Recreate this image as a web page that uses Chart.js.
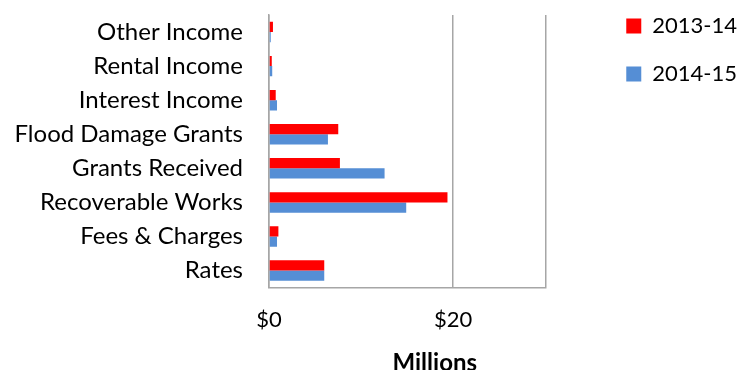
<!DOCTYPE html>
<html>
<head>
<meta charset="utf-8">
<script src="https://cdn.jsdelivr.net/npm/chart.js@4"></script>
<style>
  html, body { margin: 0; padding: 0; background: #fff; }
  #wrap { width: 742px; height: 370px; }
</style>
</head>
<body>
<div id="wrap"><canvas id="incomeChart" width="742" height="370"></canvas></div>
<script>
const categories = ["Other Income", "Rental Income", "Interest Income", "Flood Damage Grants",
    "Grants Received", "Recoverable Works", "Fees & Charges", "Rates"];
const income1314 = [0.43, 0.30, 0.73, 7.52, 7.70, 19.38, 1.02, 6.00];
const income1415 = [0.19, 0.35, 0.87, 6.40, 12.55, 14.90, 0.87, 6.00];
const seriesNames = ["2013-14", "2014-15"];
const xTicks = [0, 20, 30];

const FONT = "Lato, 'Open Sans', sans-serif";

// move the legend up and away from the plot
const legendPlace = {
    id: "legendPlace",
    afterLayout(chart) {
        const lg = chart.legend;
        const w = lg.width, h = lg.height;
        lg.left = chart.chartArea.right + 55;
        lg.right = lg.left + w;
        lg.top = -11;
        lg.bottom = lg.top + h;
    }
};

// axis title sits a little right of centre
const axisTitle = {
    id: "axisTitle",
    afterDraw(chart) {
        const ctx = chart.ctx;
        const area = chart.chartArea;
        ctx.save();
        ctx.font = "bold 24px " + FONT;
        ctx.fillStyle = "#000";
        ctx.textAlign = "center";
        ctx.textBaseline = "middle";
        ctx.fillText("Millions", area.left + (area.right - area.left) * 0.6, 363);
        ctx.restore();
    }
};

new Chart(document.getElementById("incomeChart"), {
    type: "bar",
    data: {
        labels: categories,
        datasets: [{
            label: seriesNames[0],
            data: income1314,
            backgroundColor: "#ff0000"
        }, {
            label: seriesNames[1],
            data: income1415,
            backgroundColor: "#558ed5"
        }]
    },
    options: {
        indexAxis: "y",
        responsive: false,
        animation: false,
        categoryPercentage: 0.6,
        barPercentage: 1.0,
        layout: { padding: { top: 15, right: 50, bottom: 18, left: 0 } },
        plugins: {
            tooltip: { enabled: false },
            legend: {
                position: "right",
                align: "start",
                labels: {
                    boxWidth: 15,
                    boxHeight: 15,
                    padding: 26,
                    color: "#000",
                    font: { family: FONT, size: 22 }
                }
            }
        },
        scales: {
            x: {
                min: 0,
                max: 30,
                afterBuildTicks(scale) {
                    scale.ticks = xTicks.map(v => ({ value: v }));
                },
                grid: { color: "#a6a6a6", lineWidth: 1.5, drawTicks: false },
                border: { color: "#a6a6a6", width: 1.5 },
                ticks: {
                    padding: 19,
                    maxRotation: 0,
                    color: "#000",
                    font: { family: FONT, size: 22 },
                    callback: v => v === 30 ? "" : "$" + v
                }
            },
            y: {
                afterFit(scale) {
                    scale.width = 269;
                    scale.paddingTop = 0;
                    scale.paddingBottom = 0;
                },
                grid: { display: false, drawTicks: false },
                border: { color: "#a6a6a6", width: 1.5 },
                ticks: {
                    padding: 26,
                    autoSkip: false,
                    color: "#000",
                    font: { family: FONT, size: 24 }
                }
            }
        }
    },
    plugins: [legendPlace, axisTitle]
});
</script>
</body>
</html>
